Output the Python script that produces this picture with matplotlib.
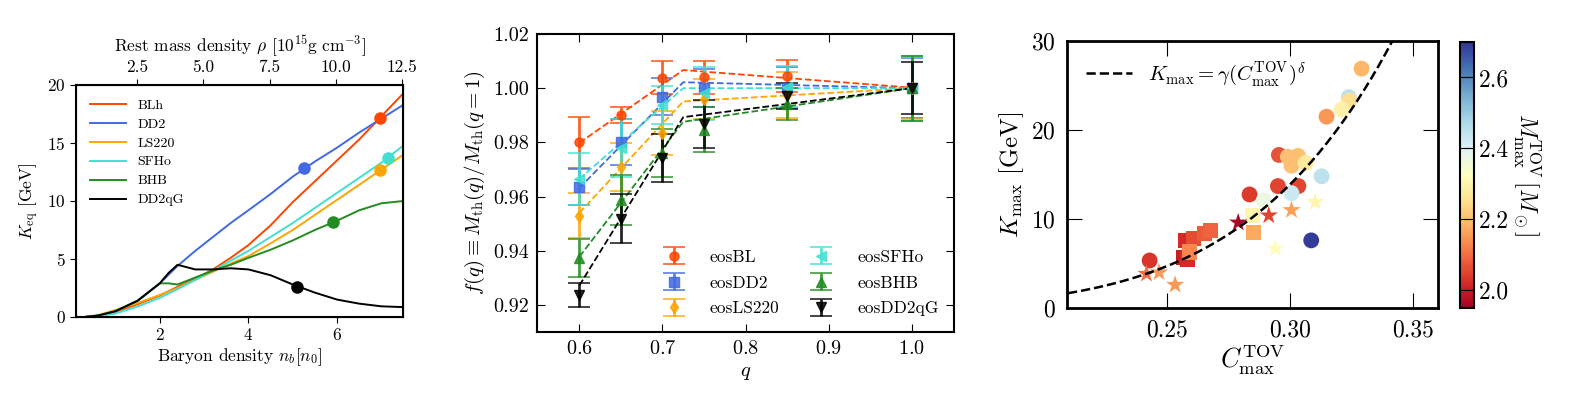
import numpy as np
import matplotlib
matplotlib.use("Agg")
from matplotlib import pyplot as plt

plt.rcParams["font.family"] = "serif"
plt.rcParams["font.serif"] = ["cmr10", "DejaVu Serif"]
plt.rcParams["mathtext.fontset"] = "cm"
plt.rcParams["axes.formatter.use_mathtext"] = True
plt.rcParams["axes.unicode_minus"] = False

#+++++ panel 1: K_eq vs baryon density
eos1 = ["BLh", "DD2", "LS220", "SFHo", "BHB", "DD2qG"]
col1 = ["orangered", "royalblue", "orange", "turquoise", "forestgreen", "black"]

nb_blh = [0.3, 0.6, 1.0, 1.5, 2.0, 2.4, 2.8, 3.2, 3.6, 4.0, 4.5, 5.0, 5.5, 6.0, 6.5, 7.0, 7.5]
k_blh = [0.0, 0.1, 0.45, 1.1, 1.85, 2.6, 3.3, 4.1, 5.1, 6.2, 7.9, 9.9, 11.7, 13.5, 15.3, 17.3, 19.3]
nb_dd2 = [0.3, 0.6, 1.0, 1.5, 2.0, 2.4, 2.8, 3.2, 3.6, 4.0, 4.5, 5.0, 5.5, 6.0, 6.5, 7.0, 7.5]
k_dd2 = [0.0, 0.12, 0.5, 1.4, 2.9, 4.4, 5.7, 6.9, 8.1, 9.2, 10.6, 12.1, 13.4, 14.6, 15.9, 17.1, 18.3]
nb_ls220 = [0.3, 0.6, 1.0, 1.5, 2.0, 2.4, 2.8, 3.2, 3.6, 4.0, 4.5, 5.0, 5.5, 6.0, 6.5, 7.0, 7.5]
k_ls220 = [0.0, 0.15, 0.6, 1.2, 1.9, 2.5, 3.2, 3.9, 4.6, 5.25, 6.35, 7.5, 8.8, 10.1, 11.4, 12.7, 14.0]
nb_sfho = [0.3, 0.6, 1.0, 1.5, 2.0, 2.4, 2.8, 3.2, 3.6, 4.0, 4.5, 5.0, 5.5, 6.0, 6.5, 7.0, 7.5]
k_sfho = [0.0, 0.05, 0.3, 0.9, 1.65, 2.4, 3.2, 4.0, 4.85, 5.7, 6.9, 8.1, 9.4, 10.7, 12.0, 13.3, 14.8]
nb_bhb = [0.3, 0.6, 1.0, 1.5, 2.0, 2.2, 2.4, 2.8, 3.2, 3.6, 4.0, 4.5, 5.0, 5.5, 6.0, 6.5, 7.0, 7.5]
k_bhb = [0.0, 0.12, 0.5, 1.4, 2.9, 2.9, 2.8, 3.4, 4.0, 4.5, 5.1, 5.8, 6.6, 7.5, 8.3, 9.2, 9.8, 10.0]
nb_qg = [0.3, 0.6, 1.0, 1.5, 2.0, 2.2, 2.4, 2.6, 2.8, 3.2, 3.6, 4.0, 4.5, 5.0, 5.5, 6.0, 6.5, 7.0, 7.5]
k_qg = [0.0, 0.12, 0.5, 1.4, 2.9, 3.8, 4.5, 4.3, 4.1, 4.1, 4.2, 4.1, 3.6, 2.8, 2.1, 1.5, 1.15, 0.92, 0.85]

curves1 = [(nb_blh, k_blh), (nb_dd2, k_dd2), (nb_ls220, k_ls220),
           (nb_sfho, k_sfho), (nb_bhb, k_bhb), (nb_qg, k_qg)]
mark_nb = [6.97, 5.25, 6.97, 7.14, 5.91, 5.09]
mark_k = [17.19, 12.8, 12.63, 13.7, 8.18, 2.58]
rho_per_n0 = 1.675
#-----

#+++++ panel 2: f(q)
eos2 = ["eosBL", "eosDD2", "eosLS220", "eosSFHo", "eosBHB", "eosDD2qG"]
mk2 = ["o", "s", "d", "<", "^", "v"]
q = [0.6, 0.65, 0.7, 0.75, 0.85, 1.0]
f_bl = [0.980, 0.990, 1.0039, 1.004, 1.0045, 1.000]
e_bl = [0.0093, 0.003, 0.006, 0.006, 0.006, 0.012]
f_dd2 = [0.9636, 0.980, 0.9969, 1.0001, 1.0002, 1.000]
e_dd2 = [0.0066, 0.0085, 0.0068, 0.007, 0.0075, 0.011]
f_ls = [0.953, 0.9709, 0.9834, 0.996, 0.9975, 1.000]
e_ls = [0.0083, 0.009, 0.008, 0.0075, 0.0085, 0.0115]
f_sfho = [0.9665, 0.9779, 0.9939, 0.9982, 1.0006, 1.000]
e_sfho = [0.0097, 0.0107, 0.007, 0.0098, 0.0075, 0.012]
f_bhb = [0.9373, 0.9587, 0.9761, 0.9847, 0.9942, 1.000]
e_bhb = [0.0071, 0.0092, 0.009, 0.0083, 0.006, 0.012]
f_qg = [0.9236, 0.9518, 0.9742, 0.9869, 0.9972, 1.000]
e_qg = [0.0043, 0.009, 0.009, 0.0088, 0.0047, 0.0095]
data2 = [(f_bl, e_bl), (f_dd2, e_dd2), (f_ls, e_ls),
         (f_sfho, e_sfho), (f_bhb, e_bhb), (f_qg, e_qg)]

q_fit = [0.6, 0.725, 1.0]
fit_bl = [0.9798, 1.0067, 1.0002]
fit_dd2 = [0.9632, 1.0022, 1.0]
fit_ls = [0.954, 0.9951, 1.0]
fit_sfho = [0.9665, 1.0000, 1.0]
fit_bhb = [0.9378, 0.9876, 1.0]
fit_qg = [0.9272, 0.9893, 1.0]
fits2 = [fit_bl, fit_dd2, fit_ls, fit_sfho, fit_bhb, fit_qg]
#-----

#+++++ panel 3: K_max vs compactness
c_circ = [0.2431, 0.329, 0.3238, 0.3241, 0.321, 0.3148, 0.2955, 0.2991, 0.3032,
          0.3006, 0.3063, 0.3128, 0.2951, 0.3034, 0.3006, 0.2836, 0.2894, 0.3086]
k_circ = [5.34, 26.9, 23.7, 23.3, 22.3, 21.5, 17.2, 17.0, 17.1,
          16.0, 16.3, 14.8, 13.7, 13.7, 12.9, 12.76, 12.1, 7.6]
m_circ = [2.03, 2.19, 2.45, 2.25, 2.29, 2.15, 2.07, 2.2, 2.2,
          2.2, 2.27, 2.45, 2.05, 2.05, 2.43, 2.04, 2.37, 2.69]
c_sq = [0.2570, 0.2585, 0.2577, 0.2608, 0.2654, 0.2677, 0.2593, 0.2847, 0.2852]
k_sq = [5.7, 5.5, 7.6, 7.8, 8.35, 8.7, 6.3, 10.4, 8.5]
m_sq = [2.0, 2.02, 2.02, 2.06, 2.08, 2.09, 2.13, 2.3, 2.17]
c_star = [0.2418, 0.2469, 0.2534, 0.2790, 0.2914, 0.3006, 0.3102, 0.2941]
k_star = [3.84, 4.0, 2.6, 9.6, 10.4, 11.0, 11.9, 6.7]
m_star = [2.1, 2.15, 2.15, 1.96, 2.05, 2.16, 2.3, 2.32]
gamma_fit = 1.793e4
delta_fit = 5.95
#-----

fig = plt.figure(figsize=(15.74, 4.01), dpi=100)

# ---- panel 1
ax1 = fig.add_axes([0.0483, 0.2095, 0.2078, 0.5786])
for (x, y), name, c in zip(curves1, eos1, col1):
    ax1.plot(x, y, color=c, lw=1.4, label=name)
for xm, ym, c in zip(mark_nb, mark_k, col1):
    ax1.plot(xm, ym, "o", color=c, ms=8)
ax1.set_xlim(0.11, 7.49)
ax1.set_ylim(0, 20)
ax1.set_xticks([2, 4, 6])
ax1.set_yticks([0, 5, 10, 15, 20])
ax1.set_xlabel(r"Baryon density $n_b [n_0]$", fontsize=12.5, labelpad=2)
ax1.set_ylabel(r"$K_{\rm eq}$ [GeV]", fontsize=12.5, labelpad=4)
ax1.tick_params(direction="out", length=4, labelsize=12.5)
for s in ax1.spines.values():
    s.set_linewidth(1.5)
ax1.legend(loc="upper left", frameon=False, fontsize=10, handlelength=2.6,
           labelspacing=0.45, borderaxespad=0.6)

ax1t = ax1.twiny()
ax1t.set_xlim(0.11 * rho_per_n0, 7.49 * rho_per_n0)
ax1t.set_xticks([2.5, 5.0, 7.5, 10.0, 12.5])
ax1t.xaxis.set_major_formatter(plt.FormatStrFormatter("%.1f"))
ax1t.tick_params(direction="out", length=4, labelsize=12.5)
ax1t.set_xlabel(r"Rest mass density $\rho$ $[10^{15}{\rm g\ cm}^{-3}]$",
                fontsize=12.5, labelpad=5)

# ---- panel 2
ax2 = fig.add_axes([0.3412, 0.1721, 0.2649, 0.7431])
for (f, e), fit, name, c, m in zip(data2, fits2, eos2, col1, mk2):
    ax2.errorbar(q, f, yerr=e, fmt=m, color=c, ms=6.5, elinewidth=2,
                 capsize=8, capthick=1.2, label=name, alpha=0.85)
    ax2.plot(q_fit, fit, "--", color=c, lw=1.3)
ax2.set_xlim(0.549, 1.051)
ax2.set_ylim(0.910, 1.020)
ax2.set_xticks([0.6, 0.7, 0.8, 0.9, 1.0])
ax2.set_yticks([0.92, 0.94, 0.96, 0.98, 1.00, 1.02])
ax2.yaxis.set_major_formatter(plt.FormatStrFormatter("%.2f"))
ax2.tick_params(direction="in", length=5.5, labelsize=14.5, top=True, right=True,
                pad=6)
for s in ax2.spines.values():
    s.set_linewidth(1.5)
ax2.set_xlabel(r"$q$", fontsize=15)
ax2.set_ylabel(r"$f(q) \equiv M_{\rm th}(q)/M_{\rm th}(q=1)$", fontsize=15)
ax2.legend(loc="lower right", ncol=2, frameon=False, fontsize=12.5,
           handlelength=2.5, columnspacing=1.2, labelspacing=0.6)

# ---- panel 3
ax3 = fig.add_axes([0.6779, 0.2319, 0.2357, 0.6658])
cmap = plt.get_cmap("RdYlBu")
norm = plt.Normalize(1.95, 2.70)
cc = np.linspace(0.21, 0.36, 200)
ax3.plot(cc, gamma_fit * cc ** delta_fit, "k--", lw=1.8,
         label=r"$K_{\rm max} = \gamma (C^{\rm TOV}_{\rm max})^\delta$")
sc = ax3.scatter(c_circ, k_circ, c=m_circ, cmap=cmap, norm=norm, marker="o",
                 s=130, edgecolors="none")
ax3.scatter(c_sq, k_sq, c=m_sq, cmap=cmap, norm=norm, marker="s", s=120,
            edgecolors="none")
ax3.scatter(c_star, k_star, c=m_star, cmap=cmap, norm=norm, marker="*", s=190,
            edgecolors="none")
ax3.set_xlim(0.2096, 0.360)
ax3.set_ylim(0, 30)
ax3.set_xticks([0.25, 0.30, 0.35])
ax3.set_yticks([0, 10, 20, 30])
ax3.xaxis.set_major_formatter(plt.FormatStrFormatter("%.2f"))
ax3.tick_params(direction="in", length=11, labelsize=17, top=True, right=True,
                pad=8)
for s in ax3.spines.values():
    s.set_linewidth(2)
ax3.set_xlabel(r"$C^{\rm TOV}_{\rm max}$", fontsize=19, labelpad=1)
ax3.set_ylabel(r"$K_{\rm max}$ [GeV]", fontsize=18)
ax3.legend(loc="upper left", frameon=False, fontsize=15, handlelength=2.2)

cax = fig.add_axes([0.9276, 0.2319, 0.0089, 0.6633])
cb = fig.colorbar(sc, cax=cax)
cb.set_ticks([2.0, 2.2, 2.4, 2.6])
cb.ax.yaxis.set_major_formatter(plt.FormatStrFormatter("%.1f"))
cb.ax.tick_params(direction="in", length=7, left=True, right=True, labelsize=17)
cb.outline.set_linewidth(1.5)
cb.set_label(r"$M^{\rm TOV}_{\rm max}\,[M_\odot]$", fontsize=17, rotation=270,
             labelpad=24)

fig.savefig("out.png", dpi=100)
